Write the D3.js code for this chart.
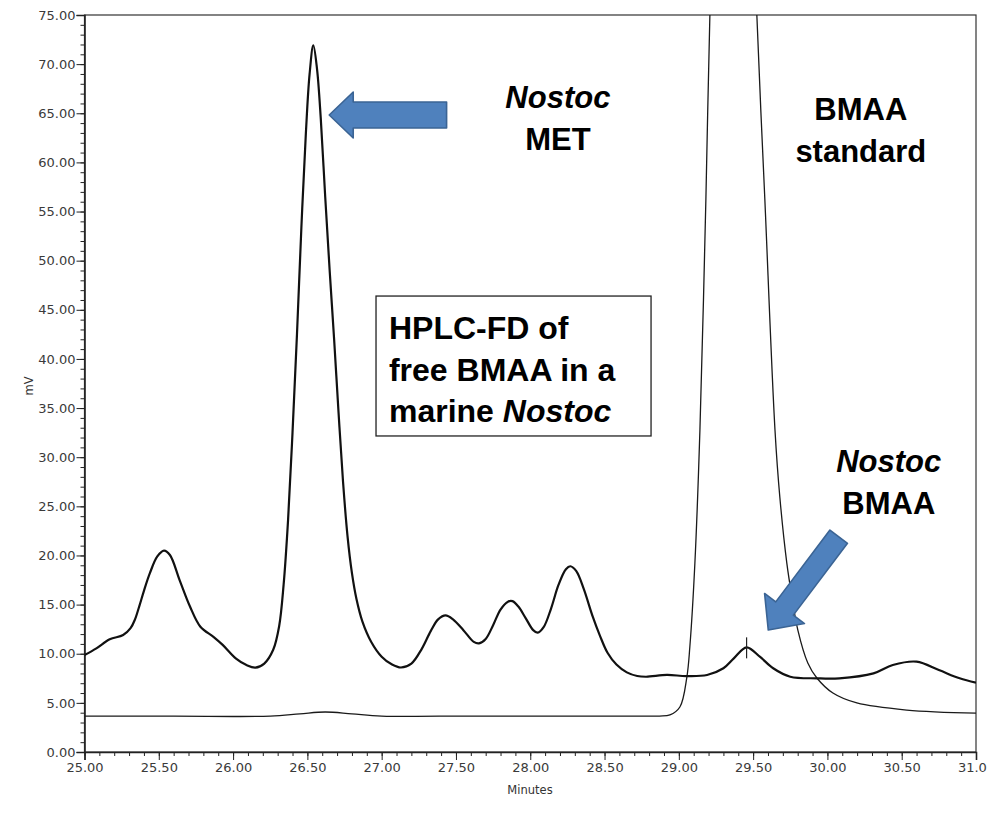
<!DOCTYPE html>
<html><head><meta charset="utf-8">
<script src="https://cdn.jsdelivr.net/npm/d3@7"></script>
<style>body{margin:0;background:#fff}svg{display:block}</style>
</head><body><div id="chart"></div>
<script>
// ---- data ----
const sampleTime = [25.00,25.08,25.17,25.26,25.31,25.34,25.37,25.40,25.44,25.49,25.535,25.575,25.64,25.71,25.78,25.87,25.93,26.02,26.09,26.15,26.21,26.27,26.31,26.34,26.37,26.40,26.43,26.46,26.49,26.515,26.54,26.565,26.59,26.62,26.65,26.68,26.71,26.74,26.77,26.80,26.83,26.87,26.93,27.00,27.07,27.13,27.20,27.27,27.33,27.38,27.43,27.48,27.55,27.62,27.655,27.70,27.75,27.80,27.85,27.88,27.92,27.97,28.02,28.05,28.09,28.14,28.19,28.24,28.27,28.31,28.36,28.42,28.47,28.52,28.58,28.65,28.72,28.78,28.92,29.05,29.19,29.30,29.37,29.456,29.545,29.635,29.75,29.93,30.08,30.31,30.44,30.60,30.75,30.89,31.00];
const sampleMv = [9.87,10.55,11.47,11.9,12.6,13.5,14.9,16.4,18.2,19.9,20.5,20.05,17.5,14.8,12.75,11.7,10.9,9.5,8.85,8.58,9.0,10.4,12.8,17.0,23.6,32.5,42.5,53.5,63.0,69.0,71.9,69.5,64.5,56.5,49.0,42.0,34.5,27.5,22.0,18.2,15.6,13.3,11.2,9.7,8.9,8.6,9.0,10.5,12.3,13.5,13.9,13.5,12.4,11.2,11.05,11.5,12.9,14.5,15.3,15.35,14.8,13.6,12.4,12.14,12.7,14.6,17.0,18.6,18.9,18.4,16.6,13.8,11.8,10.1,8.9,8.1,7.73,7.66,7.84,7.73,7.84,8.52,9.53,10.65,9.7,8.52,7.66,7.5,7.5,8.0,8.85,9.19,8.34,7.5,7.05];
const standardTime = [25.00,25.60,26.25,26.45,26.62,26.80,27.00,27.60,28.20,28.70,28.87,28.94,29.007,29.054,29.074,29.108,29.142,29.182,29.209,29.264,29.307,29.367,29.43,29.475,29.525,29.579,29.647,29.680,29.727,29.761,29.801,29.868,29.929,30.037,30.198,30.534,31.00];
const standardMv = [3.65,3.65,3.65,3.88,4.07,3.88,3.66,3.66,3.66,3.66,3.66,3.77,4.58,7.63,10.68,19.2,32.8,56.2,75.0,100,115,124,115,100,75,56.2,32.8,25.9,19.2,15.8,12.4,9.06,7.53,6.0,4.99,4.27,3.95];
const xMajorTicks = [25.0,25.5,26.0,26.5,27.0,27.5,28.0,28.5,29.0,29.5,30.0,30.5,31.0];
const yMajorTicks = [0,5,10,15,20,25,30,35,40,45,50,55,60,65,70,75];
const peakMarkTime = 29.456, peakMarkMv = 10.65;
const xLabel = "Minutes", yLabel = "mV";

// ---- layout ----
const W = 1000, H = 820;
const svg = d3.select("#chart").append("svg").attr("width", W).attr("height", H);
svg.append("rect").attr("width", W).attr("height", H).attr("fill", "#fff");
const defs = svg.append("defs");
defs.append("clipPath").attr("id", "page").append("rect").attr("x", 0).attr("y", 0).attr("width", 987).attr("height", H);
const root = svg.append("g").attr("clip-path", "url(#page)");

const x = d3.scaleLinear().domain([25, 31]).range([84.5, 976]);
const y = d3.scaleLinear().domain([0, 75]).range([752, 15]);

defs.append("clipPath").attr("id", "plot").append("rect")
  .attr("x", x(25)).attr("y", y(75)).attr("width", x(31) - x(25)).attr("height", y(0) - y(75));

// frame
root.append("rect").attr("x", x(25)).attr("y", y(75)).attr("width", x(31) - x(25)).attr("height", y(0) - y(75))
  .attr("fill", "none").attr("stroke", "#333").attr("stroke-width", 1.2);

const tickFont = "'DejaVu Sans', Verdana, sans-serif";
// minor ticks
const xMinor = d3.range(250, 311).map(d => d / 10);
const yMinor = d3.range(0, 76);
root.append("g").attr("transform", `translate(0,${y(0)})`)
  .call(d3.axisBottom(x).tickValues(xMinor).tickSize(4).tickFormat(""))
  .call(g => g.select(".domain").remove())
  .call(g => g.selectAll("line").attr("stroke", "#222"));
root.append("g").attr("transform", `translate(${x(25)},0)`)
  .call(d3.axisLeft(y).tickValues(yMinor).tickSize(4).tickFormat(""))
  .call(g => g.select(".domain").remove())
  .call(g => g.selectAll("line").attr("stroke", "#222"));
// major axes
root.append("g").attr("transform", `translate(0,${y(0)})`)
  .call(d3.axisBottom(x).tickValues(xMajorTicks).tickSize(8).tickPadding(3).tickFormat(d3.format(".2f")))
  .call(g => g.select(".domain").attr("stroke", "#222").attr("stroke-width", 1.6))
  .call(g => g.selectAll("line").attr("stroke", "#222"))
  .call(g => g.selectAll("text").attr("font-family", tickFont).attr("font-size", 13).attr("fill", "#3a3a3a"));
root.append("g").attr("transform", `translate(${x(25)},0)`)
  .call(d3.axisLeft(y).tickValues(yMajorTicks).tickSize(8).tickPadding(1).tickFormat(d3.format(".2f")))
  .call(g => g.select(".domain").attr("stroke", "#222").attr("stroke-width", 1.6))
  .call(g => g.selectAll("line").attr("stroke", "#222"))
  .call(g => g.selectAll("text").attr("font-family", tickFont).attr("font-size", 13).attr("fill", "#3a3a3a"));

root.append("text").attr("x", 530).attr("y", 794).attr("text-anchor", "middle")
  .attr("font-family", tickFont).attr("font-size", 11.5).attr("fill", "#333").text(xLabel);
root.append("text").attr("transform", "translate(33,386) rotate(-90)").attr("text-anchor", "middle")
  .attr("font-family", tickFont).attr("font-size", 11.5).attr("fill", "#333").text(yLabel);

// curves
const line = d3.line().x(d => x(d[0])).y(d => y(d[1])).curve(d3.curveCatmullRom.alpha(0.5));
const plot = root.append("g").attr("clip-path", "url(#plot)");
plot.append("path").datum(d3.zip(standardTime, standardMv)).attr("d", line)
  .attr("fill", "none").attr("stroke", "#1a1a1a").attr("stroke-width", 1.3);
plot.append("path").datum(d3.zip(sampleTime, sampleMv)).attr("d", line)
  .attr("fill", "none").attr("stroke", "#111").attr("stroke-width", 2.2);
// peak marker
plot.append("line").attr("x1", x(peakMarkTime)).attr("x2", x(peakMarkTime))
  .attr("y1", y(peakMarkMv) - 10).attr("y2", y(peakMarkMv) + 11)
  .attr("stroke", "#222").attr("stroke-width", 1.2);

// ---- annotations ----
const annFont = "'Liberation Sans', Arial, sans-serif";
function block(cx, baseY, lines, size, anchor) {
  const t = root.append("text").attr("font-family", annFont).attr("font-weight", "bold")
    .attr("font-size", size).attr("fill", "#000").attr("text-anchor", anchor || "middle");
  lines.forEach((ln, i) => {
    const tl = t.append("tspan").attr("x", cx).attr("y", baseY + i * 41.5);
    ln.forEach(part => tl.append("tspan").attr("font-style", part.i ? "italic" : "normal").text(part.s));
  });
}
block(x(28.186), y(65.53), [[{s: "Nostoc", i: true}], [{s: "MET"}]], 31);
block(x(30.225), y(64.31), [[{s: "BMAA"}], [{s: "standard"}]], 31);
block(x(30.413), y(28.49), [[{s: "Nostoc", i: true}], [{s: "BMAA"}]], 31);

// text box
root.append("rect").attr("x", x(26.962)).attr("y", y(46.40))
  .attr("width", x(28.813) - x(26.962)).attr("height", y(32.16) - y(46.40))
  .attr("fill", "#fff").attr("stroke", "#222").attr("stroke-width", 1.3);
block(x(27.049), y(42.0), [[{s: "HPLC-FD of"}], [{s: "free BMAA in a"}], [{s: "marine "}, {s: "Nostoc", i: true}]], 32, "start");

// arrows
function arrow(tipT, tipV, tailT, tailV, headLen, headHalf, shaftHalf) {
  const tx = x(tipT), ty = y(tipV), bx = x(tailT), by = y(tailV);
  const ang = Math.atan2(ty - by, tx - bx) * 180 / Math.PI;
  const L = Math.hypot(tx - bx, ty - by);
  const pts = [[0, -shaftHalf], [L - headLen, -shaftHalf], [L - headLen, -headHalf], [L, 0],
               [L - headLen, headHalf], [L - headLen, shaftHalf], [0, shaftHalf]];
  root.append("path").attr("transform", `translate(${bx},${by}) rotate(${ang})`)
    .attr("d", "M" + pts.map(p => p.join(",")).join("L") + "Z")
    .attr("fill", "#4f81bd").attr("stroke", "#3b6494").attr("stroke-width", 1.6).attr("stroke-linejoin", "round");
}
arrow(26.647, 64.82, 27.437, 64.82, 24, 23, 13);
arrow(29.602, 12.41, 30.076, 21.91, 27, 25, 11);
</script></body></html>
